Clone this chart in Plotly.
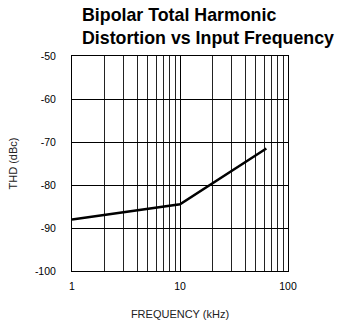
import plotly.graph_objects as go

# THD curve: input frequency (kHz) vs total harmonic distortion (dBc)
freq_khz = [1, 10, 63]
thd_dbc = [-88, -84.5, -71.5]

y_ticks = [-100, -90, -80, -70, -60, -50]
y_tick_text = ["-100", "-90", "-80", "-70", "-60", "-50"]
x_ticks = [1, 10, 100]
x_tick_text = ["1", "10", "100"]

fig = go.Figure()
fig.add_trace(go.Scatter(
    x=freq_khz, y=thd_dbc, mode="lines",
    line=dict(color="black", width=2.5),
    showlegend=False,
))

tick_font = dict(family="Liberation Sans, Arial, sans-serif", size=10.5, color="black")
label_font = dict(family="Liberation Sans, Arial, sans-serif", size=11, color="#222")

fig.update_xaxes(
    type="log", range=[0, 2], automargin=False,
    tickvals=x_ticks, ticktext=x_tick_text,
    tickfont=tick_font, ticks="outside", ticklen=5, tickcolor="white",
    showgrid=True, gridcolor="black", gridwidth=1,
    minor=dict(dtick="D1", showgrid=True, gridcolor="#222", gridwidth=1, ticks=""),
    showline=True, linecolor="black", linewidth=1, mirror=True,
    zeroline=False,
    title=dict(text="FREQUENCY (kHz)", font=label_font, standoff=19),
)
fig.update_yaxes(
    range=[-100, -50], automargin=False,
    tickvals=y_ticks, ticktext=y_tick_text,
    tickfont=tick_font, ticks="outside", ticklen=13, tickcolor="white",
    showgrid=True, gridcolor="black", gridwidth=1.3,
    showline=True, linecolor="black", linewidth=1, mirror=True,
    zeroline=False,
    title=dict(text="THD (dBc)", font=label_font, standoff=15),
)

fig.add_annotation(
    text="<b>Bipolar Total Harmonic<br>Distortion vs Input Frequency</b>",
    xref="paper", yref="paper", x=0.035, y=1.245,
    xanchor="left", yanchor="top", align="left", showarrow=False,
    font=dict(family="Liberation Sans, Arial, sans-serif", size=17.8, color="black"),
)

fig.update_layout(
    width=347, height=326,
    margin=dict(l=72, r=59, t=56, b=55),
    paper_bgcolor="white", plot_bgcolor="white",
)

fig.write_html("out.html")
